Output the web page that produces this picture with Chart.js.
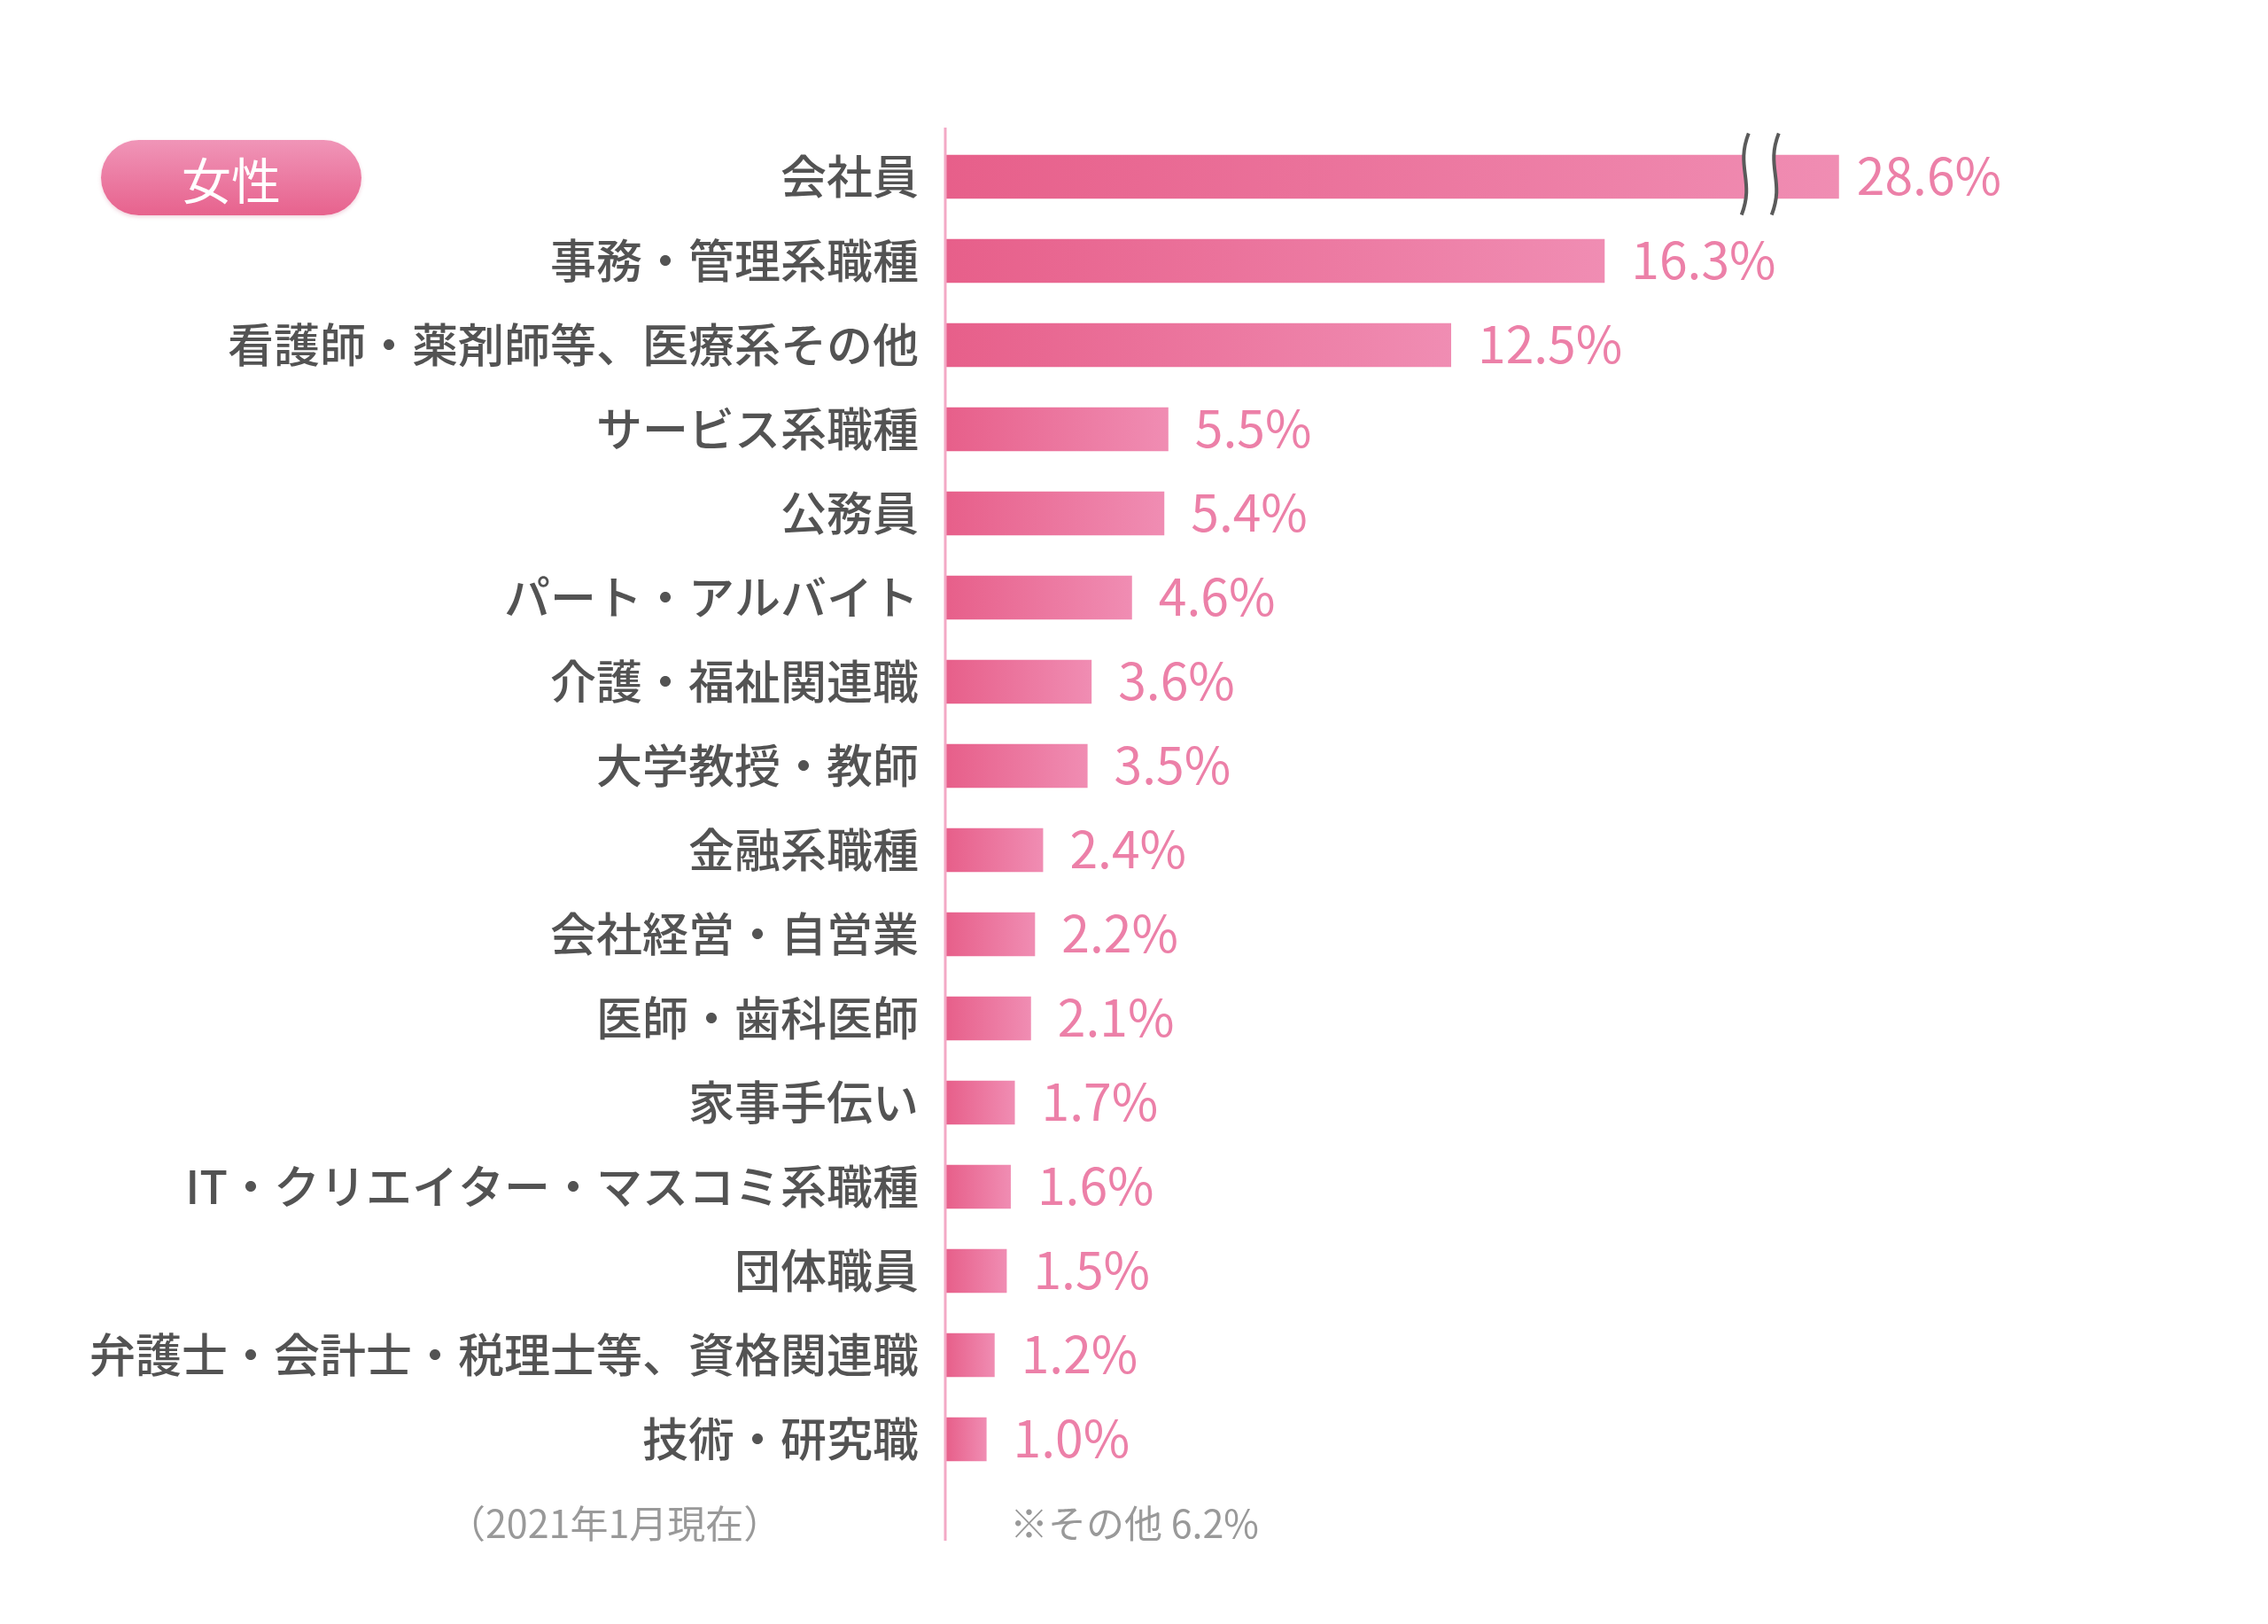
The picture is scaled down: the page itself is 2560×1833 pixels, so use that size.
<!DOCTYPE html>
<html lang="ja">
<head>
<meta charset="utf-8">
<script src="https://cdn.jsdelivr.net/npm/chart.js@4/dist/chart.umd.min.js"></script>
<style>
  body { margin: 0; background: #fff; }
  #wrap { position: relative; width: 2560px; height: 1833px; }
  .badge {
    position: absolute; left: 114px; top: 158px; width: 294px; height: 85px;
    border-radius: 43px; background: linear-gradient(to bottom, #f095b8, #e7628d);
    box-shadow: 0 2px 4px rgba(200, 80, 120, 0.25);
    color: #fff; font: 400 56px "Noto Sans CJK JP"; line-height: 85px; text-align: center;
  }
  .note { position: absolute; top: 1686px; height: 50px; line-height: 50px; color: #999; font: 400 43px "Noto Sans CJK JP"; }
</style>
</head>
<body>
<div id="wrap">
  <canvas id="jobChart"></canvas>
  <div class="badge" id="badge"></div>
  <div class="note" id="asOf" style="left:505px"></div>
  <div class="note" id="other" style="left:1140px"></div>
</div>
<script>
const groupLabel = '女性';
const categories = [
  '会社員', '事務・管理系職種', '看護師・薬剤師等、医療系その他', 'サービス系職種', '公務員',
  'パート・アルバイト', '介護・福祉関連職', '大学教授・教師', '金融系職種', '会社経営・自営業',
  '医師・歯科医師', '家事手伝い', 'IT・クリエイター・マスコミ系職種', '団体職員',
  '弁護士・会計士・税理士等、資格関連職', '技術・研究職'
];
const values = [28.6, 16.3, 12.5, 5.5, 5.4, 4.6, 3.6, 3.5, 2.4, 2.2, 2.1, 1.7, 1.6, 1.5, 1.2, 1.0];
const otherShare = 6.2;
const asOfNote = '（2021年1月現在）';
const breakAt = 22.1; // bars longer than this are drawn cut with a break mark

document.getElementById('badge').textContent = groupLabel;
document.getElementById('asOf').textContent = asOfNote;
document.getElementById('other').textContent = '※その他 ' + otherShare + '%';

const shown = values.map(v => Math.min(v, breakAt));

function barGradient(context) {
  const chart = context.chart;
  const { ctx, chartArea, scales } = chart;
  if (!chartArea) return '#e96a93';
  const x0 = chartArea.left;
  const x1 = scales.x.getPixelForValue(shown[context.dataIndex]);
  const g = ctx.createLinearGradient(x0, 0, x1, 0);
  g.addColorStop(0, '#e75f8a');
  g.addColorStop(1, '#f08db3');
  return g;
}

// axis line, value labels and break mark
const decorate = {
  id: 'decorate',
  afterDatasetsDraw(chart) {
    const { ctx, chartArea } = chart;
    const meta = chart.getDatasetMeta(0);

    ctx.save();
    ctx.strokeStyle = '#f3a9c6';
    ctx.lineWidth = 3;
    ctx.beginPath();
    ctx.moveTo(chartArea.left - 1, chartArea.top - 8);
    ctx.lineTo(chartArea.left - 1, chartArea.bottom + 67);
    ctx.stroke();

    meta.data.forEach((bar, i) => {
      let gap = 30;
      if (values[i] > breakAt) {
        gap = 20;
        const top = bar.y - 49, bot = bar.y + 43;
        const a = bar.x - 106, b = bar.x - 72;
        const wave = (x) => [x + 4, top, x - 11, top + 38, x + 11, bot - 38, x - 4, bot];
        const wa = wave(a), wb = wave(b);
        ctx.fillStyle = '#fff';
        ctx.beginPath();
        ctx.moveTo(wa[0], wa[1]);
        ctx.bezierCurveTo(wa[2], wa[3], wa[4], wa[5], wa[6], wa[7]);
        ctx.lineTo(wb[6], wb[7]);
        ctx.bezierCurveTo(wb[4], wb[5], wb[2], wb[3], wb[0], wb[1]);
        ctx.closePath();
        ctx.fill();
        ctx.strokeStyle = '#5a5a5a';
        ctx.lineWidth = 4;
        [wa, wb].forEach(w => {
          ctx.beginPath();
          ctx.moveTo(w[0], w[1]);
          ctx.bezierCurveTo(w[2], w[3], w[4], w[5], w[6], w[7]);
          ctx.stroke();
        });
      }
      ctx.fillStyle = '#ec80a8';
      ctx.font = '400 57px "Noto Sans CJK JP"';
      ctx.textAlign = 'left';
      ctx.textBaseline = 'middle';
      ctx.fillText(values[i].toFixed(1) + '%', bar.x + gap, bar.y - 1);
    });
    ctx.restore();
  }
};

new Chart(document.getElementById('jobChart'), {
  type: 'bar',
  data: {
    labels: categories,
    datasets: [{
      data: shown,
      backgroundColor: barGradient,
      borderWidth: 0,
      barPercentage: 0.52,
      categoryPercentage: 1.0
    }]
  },
  options: {
    indexAxis: 'y',
    responsive: true,
    maintainAspectRatio: false,
    animation: false,
    layout: { padding: { left: 0, right: 124, top: 152, bottom: 161 } },
    plugins: { legend: { display: false }, tooltip: { enabled: false } },
    scales: {
      x: { min: 0, max: 30, display: false },
      y: {
        grid: { display: false, drawTicks: false },
        border: { display: false },
        ticks: {
          padding: 31,
          color: '#535353',
          font: { family: '"Noto Sans CJK JP"', size: 52, weight: 500 }
        },
        afterFit(scale) { scale.width = 1068; }
      }
    }
  },
  plugins: [decorate]
});
</script>
</body>
</html>
